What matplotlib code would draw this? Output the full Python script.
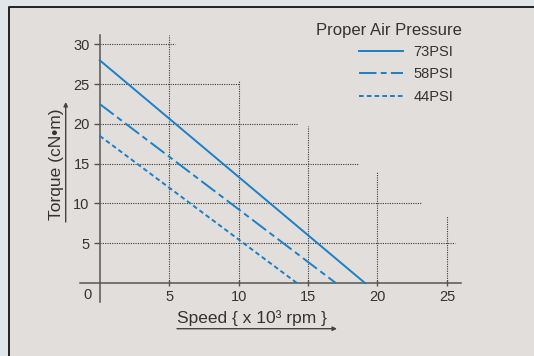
import matplotlib
matplotlib.use("Agg")
import matplotlib.pyplot as plt
from matplotlib.lines import Line2D
from matplotlib.patches import Rectangle

plt.rcParams['font.family'] = ['Liberation Sans', 'DejaVu Sans']

# torque-speed lines: stall torque at 0 rpm, free speed at 0 torque
labels = ['73PSI', '58PSI', '44PSI']
stall_torque = [28.0, 22.5, 18.5]      # cN·m
free_speed = [19.1, 17.0, 14.2]        # x10^3 rpm

x_ticks = [5, 10, 15, 20, 25]
y_ticks = [5, 10, 15, 20, 25, 30]

# staircase grid: each dotted line stops at its own length
hgrid_end = [25.6, 23.1, 18.7, 14.3, 10.0, 5.4]   # for y_ticks
vgrid_top = [31.2, 25.4, 19.7, 14.0, 8.4]         # for x_ticks

W, H = 534, 356
blue = '#1a80c8'
ink = '#333333'
styles = ['-', (0, (9, 2.2, 3, 2.2)), (0, (2.4, 1.6))]


def px(x, y):
    return x / W, 1 - y / H


fig = plt.figure(figsize=(W / 100, H / 100), dpi=100, facecolor='#e1e6ea')
fig.patches.append(Rectangle(px(8, H), (W - 8) / W, (H - 6) / H, transform=fig.transFigure,
                             facecolor='#e2dedb', edgecolor='none', zorder=-5))
fig.add_artist(Line2D([8.5 / W, 8.5 / W, 1], [0, 1 - 6.5 / H, 1 - 6.5 / H],
                      color='#222222', lw=1.4, transform=fig.transFigure))

ax = fig.add_axes([0, 0, 1, 1])
ax.set_facecolor('none')
ax.set_xlim(-7.18, 31.27)
ax.set_ylim(-9.17, 35.57)

for y, xe in zip(y_ticks, hgrid_end):
    ax.plot([0, xe], [y, y], color='#3a3a3a', lw=0.8, ls=(0, (1, 1.1)), zorder=1)
for x, yt in zip(x_ticks, vgrid_top):
    ax.plot([x, x], [0, yt], color='#3a3a3a', lw=0.8, ls=(0, (1, 1.1)), zorder=1)

handles = []
for lab, t0, s0, st in zip(labels, stall_torque, free_speed, styles):
    h, = ax.plot([0, s0], [t0, 0], color=blue, lw=1.4, ls=st, label=lab, zorder=3)
    handles.append(h)

for side in ['top', 'right']:
    ax.spines[side].set_visible(False)
ax.spines['left'].set_position(('data', 0))
ax.spines['bottom'].set_position(('data', 0))
ax.spines['left'].set_bounds(-2.4, 31.2)
ax.spines['bottom'].set_bounds(-1.4, 26)
for side in ['left', 'bottom']:
    ax.spines[side].set_color('#555555')
    ax.spines[side].set_linewidth(1.1)

ax.set_xticks(x_ticks)
ax.set_yticks(y_ticks)
ax.tick_params(axis='y', direction='out', length=4, width=1, color='#555555',
               pad=3.2, labelsize=10.5, labelcolor=ink)
ax.tick_params(axis='x', direction='inout', length=5, width=1, color='#555555',
               pad=2.6, labelsize=10.5, labelcolor=ink)
ax.annotate('0', xy=(0, 0), xytext=(-8.8, -8.7), textcoords='offset points',
            ha='center', va='center', fontsize=10.5, color=ink)

# axis titles with underline arrows
fig.text(*px(56, 164), 'Torque (cN•m)', rotation=90, ha='center', va='center',
         fontsize=12.5, color=ink)
ax.annotate('', xy=px(65.7, 102), xytext=px(65.7, 222), xycoords='figure fraction',
            arrowprops=dict(arrowstyle='-|>', lw=1, color='#444444', mutation_scale=6,
                            shrinkA=0, shrinkB=0))
fig.text(*px(252, 318), 'Speed { x 10³ rpm }', ha='center', va='center',
         fontsize=12.5, color=ink)
ax.annotate('', xy=px(337, 328.7), xytext=px(177, 328.7), xycoords='figure fraction',
            arrowprops=dict(arrowstyle='-|>', lw=1, color='#444444', mutation_scale=6,
                            shrinkA=0, shrinkB=0))

fig.text(*px(316, 35), 'Proper Air Pressure', ha='left', va='baseline',
         fontsize=12, color=ink)
ax.legend(handles=handles, loc='upper left', bbox_to_anchor=px(359, 45),
          bbox_transform=fig.transFigure, frameon=False, borderpad=0, borderaxespad=0,
          handlelength=3.0, handletextpad=0.72, labelspacing=0.58, fontsize=10.5,
          labelcolor=ink)

fig.savefig('out.png', dpi=100, facecolor=fig.get_facecolor())
